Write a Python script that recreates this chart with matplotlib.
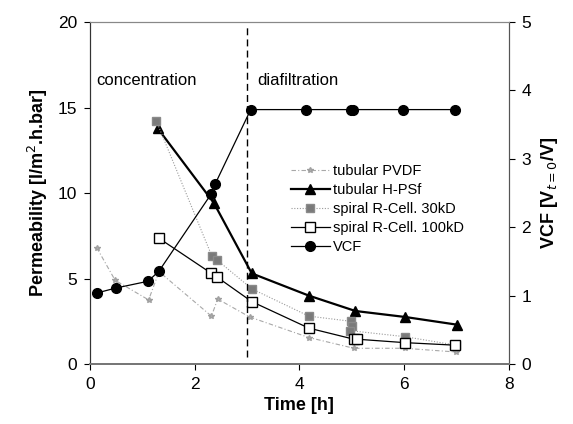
import matplotlib
matplotlib.use("Agg")
import matplotlib.pyplot as plt

plt.rcParams['font.family'] = ['Liberation Sans', 'DejaVu Sans']

# Data
t_pvdf = [0.13, 0.48, 1.12, 1.32, 2.32, 2.44, 3.05, 4.18, 5.04, 6.01, 7.0]
p_pvdf = [6.8, 4.9, 3.75, 5.4, 2.8, 3.8, 2.75, 1.55, 0.92, 0.92, 0.7]

t_hpsf = [1.29, 2.37, 3.09, 4.18, 5.07, 6.02, 7.01]
p_hpsf = [13.8, 9.4, 5.3, 4.0, 3.1, 2.75, 2.3]

t_30 = [1.27, 2.33, 2.42, 3.09, 4.18, 4.98, 5.0, 4.97, 6.01, 7.0]
p_30 = [14.2, 6.3, 6.1, 4.4, 2.8, 2.5, 2.2, 1.95, 1.6, 1.1]

t_100 = [1.32, 2.32, 2.42, 3.09, 4.18, 5.04, 5.10, 6.01, 6.98]
p_100 = [7.35, 5.3, 5.1, 3.65, 2.1, 1.45, 1.45, 1.25, 1.1]

t_vcf = [0.14, 0.49, 1.11, 1.32, 2.31, 2.39, 3.07, 4.13, 4.99, 5.03, 5.98, 6.97]
vcf = [1.04, 1.11, 1.21, 1.36, 2.48, 2.63, 3.72, 3.72, 3.72, 3.72, 3.72, 3.72]

x_ticks = [0, 2, 4, 6, 8]
y_ticks = [0, 5, 10, 15, 20]
y2_ticks = [0, 1, 2, 3, 4, 5]

fig = plt.figure(figsize=(5.73, 4.24), dpi=100)
ax = fig.add_axes([0.157, 0.1415, 0.731, 0.8065])
ax2 = ax.twinx()

l1, = ax.plot(t_pvdf, p_pvdf, color='#a8a8a8', lw=0.8, ls=(0, (4, 2, 1, 2)),
              marker='*', ms=4, mfc='#b0b0b0', mec='#a0a0a0', label='tubular PVDF')
l2, = ax.plot(t_hpsf, p_hpsf, color='black', lw=1.6, marker='^', ms=7,
              mfc='black', mec='black', label='tubular H-PSf')
l3, = ax.plot(t_30, p_30, color='#9a9a9a', lw=0.8, ls=(0, (1, 1.5)),
              marker='s', ms=5.5, mfc='#7a7a7a', mec='#8a8a8a', label='spiral R-Cell. 30kD')
l4, = ax.plot(t_100, p_100, color='black', lw=0.9, marker='s', ms=6.5,
              mfc='white', mec='black', mew=1.0, label='spiral R-Cell. 100kD')
l5, = ax2.plot(t_vcf, vcf, color='black', lw=0.9, marker='o', ms=7,
               mfc='black', mec='black', label='VCF')

ax.axvline(3.0, ymin=0.02, ymax=0.985, color='black', lw=1.0, ls=(0, (5, 3)))

ax.set_xlim(0, 8)
ax.set_ylim(0, 20)
ax2.set_ylim(0, 5)
ax.set_xticks(x_ticks)
ax.set_yticks(y_ticks)
ax2.set_yticks(y2_ticks)
ax.tick_params(labelsize=12.5, direction='out', length=4, width=0.8, pad=5)
ax2.tick_params(labelsize=12.5, direction='out', length=4, width=0.8, pad=5)

for a in (ax, ax2):
    a.spines['top'].set_color('#888888')
    a.spines['top'].set_linewidth(0.8)
    a.spines['bottom'].set_color('#777777')
    a.spines['bottom'].set_linewidth(1.4)
    a.spines['left'].set_color('#333333')
    a.spines['right'].set_color('#555555')

ax.set_xlabel('Time [h]', fontsize=13, fontweight='bold', labelpad=4)
ax.set_ylabel('Permeability [l/m$^2$.h.bar]', fontsize=13, fontweight='bold', labelpad=6)
ax2.set_ylabel('VCF [V$_{t=0}$/V]', fontsize=13, fontweight='bold', labelpad=6)

ax.text(0.12, 16.3, 'concentration', fontsize=12)
ax.text(3.2, 16.3, 'diafiltration', fontsize=12)

leg = ax2.legend(handles=[l1, l2, l3, l4, l5], loc='upper left',
                 bbox_to_anchor=(0.455, 0.615), frameon=False, fontsize=10.5,
                 handlelength=2.7, handletextpad=0.2, labelspacing=0.34,
                 borderpad=0.2)

fig.savefig('out.png', dpi=100)
